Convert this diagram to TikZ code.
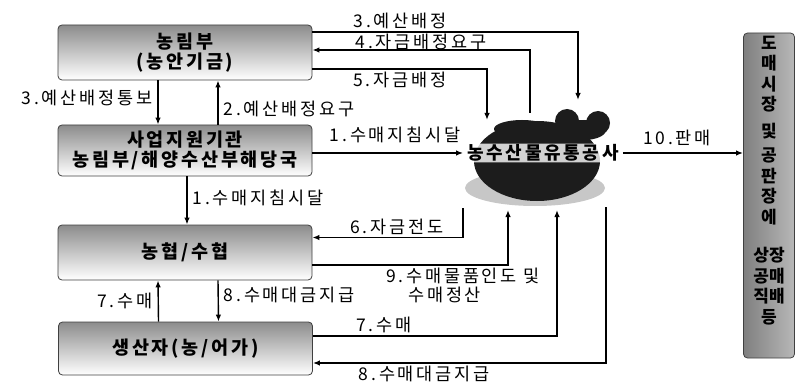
\documentclass[tikz,border=0pt]{standalone}
\usepackage{fontspec}
\usetikzlibrary{positioning,arrows.meta,calc}
\setmainfont{Noto Sans CJK KR}
\newfontfamily\boxfont{Noto Sans CJK KR}[LetterSpace=15]
\newfontfamily\labfont{Noto Sans CJK KR}[LetterSpace=16]
\definecolor{boxgray}{RGB}{140,140,140}
\definecolor{potdark}{RGB}{28,28,28}
\tikzset{
  box/.style   = {draw=black!75, rounded corners=4pt, line width=0.8pt, align=center,
                  minimum width=254pt, top color=boxgray, bottom color=white,
                  font=\boxfont\bfseries\fontsize{18.5}{20}\selectfont},
  side/.style  = {draw=black!75, rounded corners=4pt, line width=0.8pt,
                  minimum width=51pt, minimum height=325pt, left color=black!50, right color=black!28},
  lab/.style   = {font=\labfont\fontsize{17.5}{19}\selectfont, inner sep=1pt},
  wire/.style  = {line width=1.4pt},
  flow/.style  = {wire, -{Latex[length=7pt,width=5.5pt]}},
}

\begin{document}
\begin{tikzpicture}[x=1pt, y=-1pt]
  \useasboundingbox (0,0) rectangle (799,390);

  \fill[black!22] (535,188) ellipse (70 and 18);
  \fill[potdark] (537,161) ellipse (63 and 40);
  \fill[potdark] (522,129) ellipse (28 and 9);
  \fill[potdark] (567,121) circle (12);
  \fill[potdark] (598,123) circle (12);
  \fill[potdark] (584,130) ellipse (22 and 10);

  \node[box, minimum height=55pt] (nongrim) at (185,52.5) {농림부\\(농안기금)};
  \node[box, minimum height=51pt] (saeop) at (185,150.5) {사업지원기관\\농림부/해양수산부해당국};
  \node[box, minimum height=55pt] (nonghyup) at (185,252.5) {농협/수협};
  \node[box, minimum height=53pt] (saengsan) at (185.5,348.5) {생산자(농/어가)};
  \node[side] (sijang) at (769,195.5) {};
  \node[below=3pt of sijang.north, align=center, inner sep=0pt,
        font=\bfseries\fontsize{17}{20.5}\selectfont] (sijangtxt)
        {도\\매\\시\\장\\[6pt]및\\[4pt]공\\판\\장\\에\\[18pt]상장\\공매\\직배\\등};
  \node[inner xsep=4pt, inner ysep=1pt, rounded corners=5pt, fill=white, fill opacity=0.8, text opacity=1,
        font=\boxfont\bfseries\fontsize{18}{20}\selectfont] (gongsa) at (543,153) {농수산물유통공사};

  \coordinate (p3) at (578,100);
  \coordinate (p4) at (530,113);
  \coordinate (p5) at (487,120);
  \coordinate (p6) at (463,208);
  \coordinate (p9) at (508,210);
  \coordinate (p7) at (557,210);
  \coordinate (p8) at (606,207);

  \draw[flow] ([xshift=-27pt]nongrim.south) -- node[lab, left=4pt, pos=0.4] {3.예산배정통보} ([xshift=-27pt]saeop.north);
  \draw[flow] ([xshift=33pt]saeop.north) -- node[lab, right=4pt, pos=0.35] {2.예산배정요구} ([xshift=33pt]nongrim.south);
  \draw[flow] ([xshift=2pt]saeop.south) -- node[lab, right=4pt, pos=0.45] {1.수매지침시달} ([xshift=2pt]nonghyup.north);
  \draw[flow] ([xshift=-27pt]saengsan.north) -- node[lab, left=4pt] {7.수매} ([xshift=-27pt]nonghyup.south);
  \draw[flow] ([xshift=33pt]nonghyup.south) -- node[lab, right=4pt, pos=0.35] {8.수매대금지급} ([xshift=33pt]saengsan.north);

  \draw[flow] ([yshift=20.5pt]nongrim.east) -| node[lab, pos=0.165, above=1pt] {3.예산배정} (p3);
  \draw[flow] (p4) |- node[lab, pos=0.75, above=-2pt] {4.자금배정요구} ([yshift=2.5pt]nongrim.east);
  \draw[flow] ([yshift=-16.5pt]nongrim.east) -| node[lab, pos=0.25, below=1pt] {5.자금배정} (p5);
  \draw[flow] (saeop.east |- gongsa.west) -- node[lab, pos=0.55, above=8pt] {1.수매지침시달} (gongsa.west);
  \draw[flow] (gongsa.east) -- node[lab, pos=0.45, above=5pt] {10.판매} (sijang.west |- gongsa.east);
  \draw[flow] (p6) |- node[lab, pos=0.72, above=1pt] {6.자금전도} ([yshift=15pt]nonghyup.east);
  \draw[flow] ([yshift=-12.5pt]nonghyup.east) -| node[lab, pos=0.385, below=1pt, align=left]
        {9.수매물품인도 및\\\hspace*{22pt}수매정산} (p9);
  \draw[flow] ([yshift=12.5pt]saengsan.east) -| node[lab, pos=0.145, above=1pt] {7.수매} (p7);
  \draw[flow] (p8) |- node[lab, pos=0.81, below=1pt] {8.수매대금지급} ([yshift=-14.5pt]saengsan.east);
\end{tikzpicture}
\end{document}
